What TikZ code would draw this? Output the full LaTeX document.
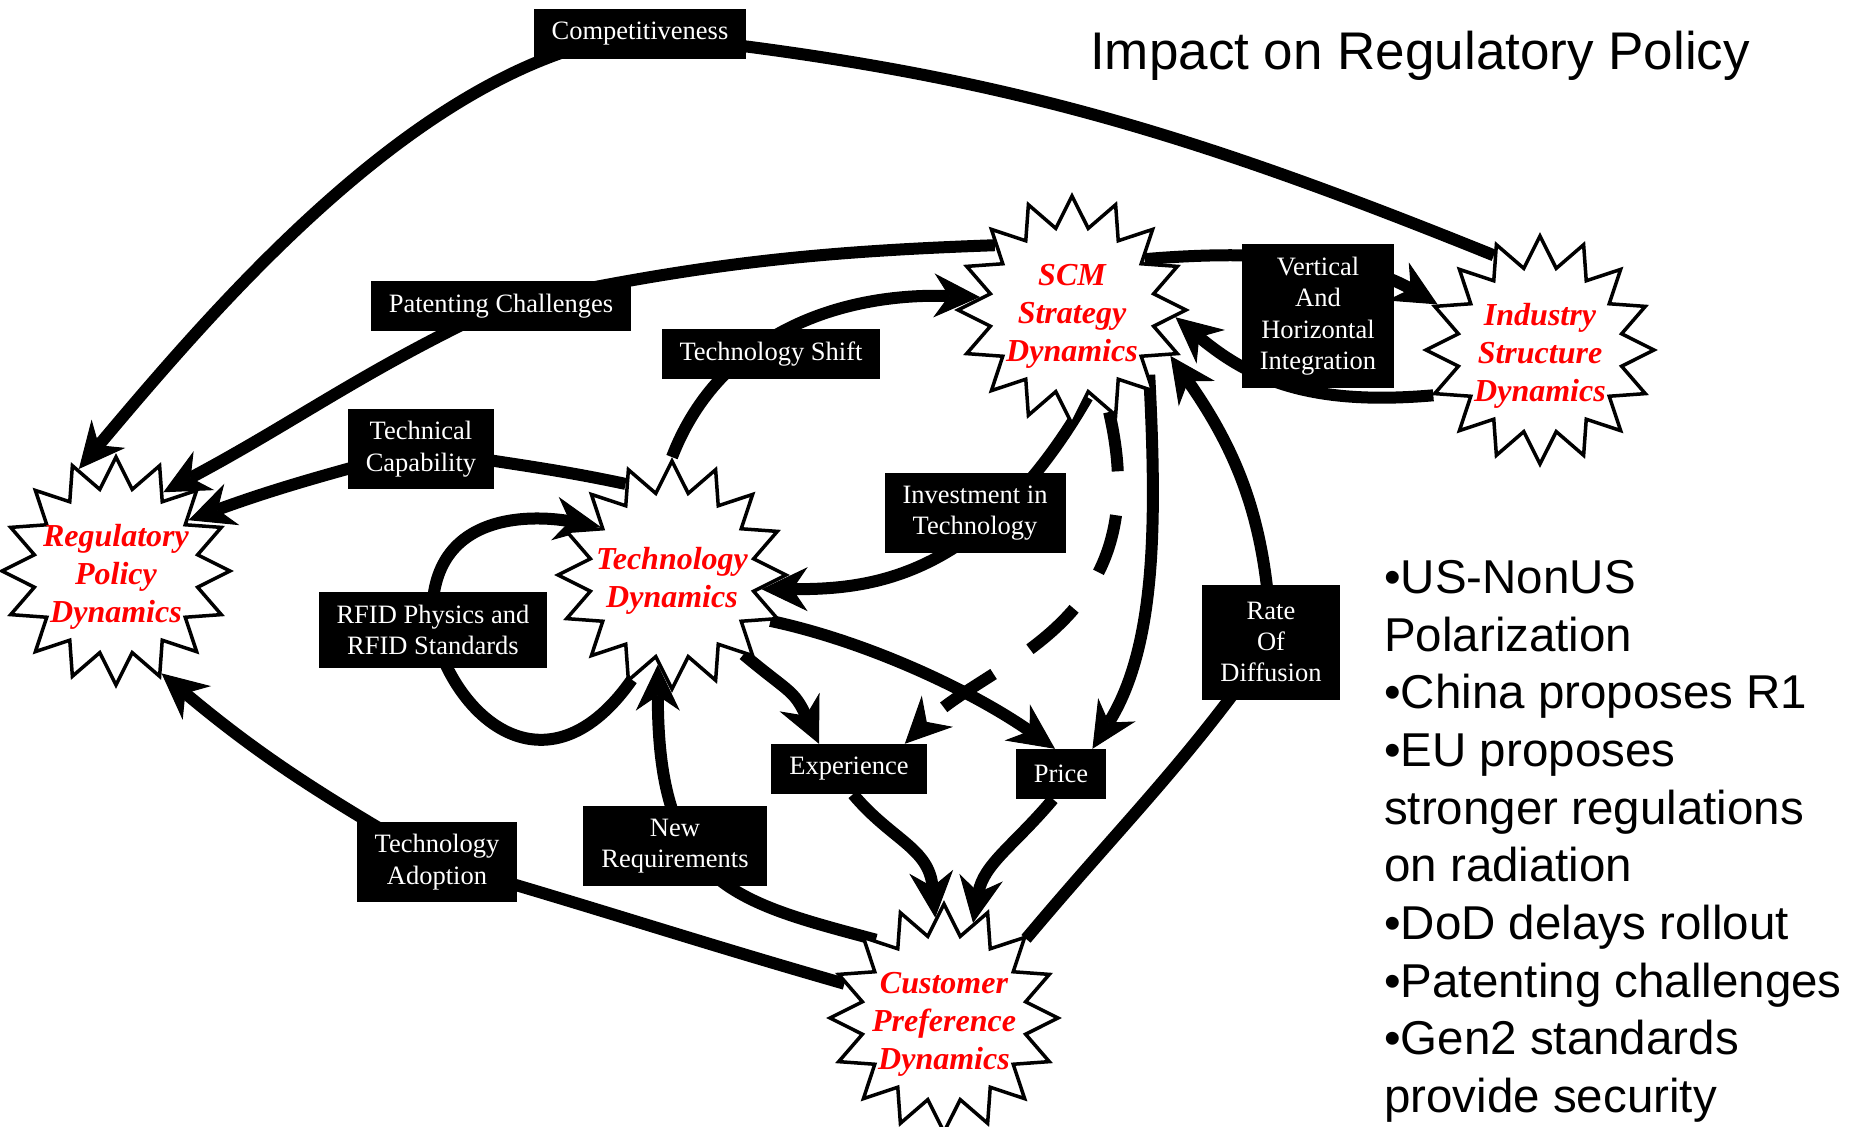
\documentclass[tikz,border=0pt]{standalone}
\usepackage{fontspec}
\setmainfont{Liberation Serif}
\newfontfamily\notefont{Liberation Sans}
\usetikzlibrary{shapes.geometric,arrows.meta,backgrounds,calc}

\begin{document}
\begin{tikzpicture}[x=1pt,y=-1pt,
  dyn/.style={star, star points=16, star point ratio=1.37, minimum size=228pt,
    inner sep=0pt, draw=black, line width=3.5pt, fill=white},
  dyntext/.style={text=red, font=\fontsize{32}{38}\selectfont\bfseries\itshape,
    align=center, inner sep=0pt, yshift=-6pt},
  factor/.style={fill=black, text=white, font=\fontsize{26.5}{31.4}\selectfont,
    align=center, inner xsep=18pt, inner ysep=12.5pt, minimum height=50pt},
  link/.style={line width=12pt, line cap=butt},
  head/.style={-{Stealth[length=46pt,width=44pt,inset=15pt,line width=1pt]}},
]
\useasboundingbox (0,0) rectangle (1858,1127);

% dynamics (starbursts)
\node[dyn, label={[dyntext]center:{Regulatory\\Policy\\Dynamics}}] (reg) at (116,571) {};
\node[dyn, label={[dyntext]center:{SCM\\Strategy\\Dynamics}}] (scm) at (1072,310) {};
\node[dyn, label={[dyntext]center:{Industry\\Structure\\Dynamics}}] (ind) at (1540,350) {};
\node[dyn, label={[dyntext]center:{Technology\\Dynamics}}] (tech) at (672,575) {};
\node[dyn, label={[dyntext]center:{Customer\\Preference\\Dynamics}}] (cust) at (944,1018) {};

% factors (black boxes)
\node[factor] (comp) at (640,34) {Competitiveness};
\node[factor] (patent) at (501,306) {Patenting Challenges};
\node[factor] (tshift) at (771,354) {Technology Shift};
\node[factor] (techcap) at (421,449) {Technical\\Capability};
\node[factor] (vhi) at (1318,316) {Vertical\\And\\Horizontal\\Integration};
\node[factor] (inv) at (975,513) {Investment in\\Technology};
\node[factor] (rfid) at (433,630) {RFID Physics and\\RFID Standards};
\node[factor, minimum height=115pt] (rate) at (1271,642) {Rate\\Of\\Diffusion};
\node[factor] (exp) at (849,769) {Experience};
\node[factor] (price) at (1061,774) {Price};
\node[factor] (tadopt) at (437,862) {Technology\\Adoption};
\node[factor] (newreq) at (675,846) {New\\Requirements};

% title and notes
\node[anchor=base west, inner sep=0pt, font=\notefont\fontsize{53}{60}\selectfont]
  (title) at (1090,69) {Impact on Regulatory Policy};
\node[anchor=north west, align=left, inner sep=0pt,
  font=\notefont\fontsize{47.5}{57.7}\selectfont] (notes) at (1384,560)
  {•US-NonUS\\Polarization\\•China proposes R1\\•EU proposes\\stronger regulations\\on radiation\\•DoD delays rollout\\•Patenting challenges\\•Gen2 standards\\provide security};

% causal links
\begin{scope}[on background layer]
\draw[link,head] (ind.116) to[out=158,in=-6] (comp.center)
  .. controls +(187:212pt) and +(50:234pt) .. (reg.110);
\draw[link,head] (scm.140) to[out=182,in=12] (patent.center) to[out=205,in=28] (reg.59);
\draw[link,head] (tech.117) to[out=168,in=-10] (techcap.center) to[out=195,in=20] (reg.35);
\draw[link,head] (tech.90) to[out=69,in=178] (scm.172);
\draw[link,head] (scm.280) .. controls +(240:214pt) and +(0:104pt) .. (tech.-9);
\draw[link,head,dash pattern=on 60pt off 44pt] (scm.290)
  .. controls +(-77:220pt) and +(45:120pt) .. ([xshift=-22pt]exp.north east);
\draw[link,head] (scm.-40) .. controls +(-87:150pt) and +(58:120pt) .. ([xshift=-14pt]price.north east);
\draw[link,head] (cust.44) to[out=50,in=-125] (rate.center) to[out=92,in=-55] (scm.-25);
\draw[link,head] (scm.35) .. controls +(5:100pt) and +(150:100pt) .. (ind.156);
\draw[link,head] (ind.203) .. controls +(185:120pt) and +(-40:100pt) .. (scm.-4);
\draw[link,head] (tech.249) .. controls +(235:140pt) and +(-75:100pt) .. (rfid.center)
  .. controls +(95:120pt) and +(170:70pt) .. (tech.146);
\draw[link,head] (tech.-48) .. controls +(-40:60pt) and +(115:60pt) .. ([xshift=-30pt]exp.north);
\draw[link,head] (tech.-25) .. controls +(-12:100pt) and +(145:100pt) .. ([xshift=-6pt]price.north);
\draw[link,head] ([xshift=4pt]exp.south) .. controls +(-50:60pt) and +(95:70pt) .. (cust.95);
\draw[link,head] ([xshift=-8pt]price.south) .. controls +(230:60pt) and +(80:60pt) .. (cust.73);
\draw[link,head] (cust.131) .. controls +(165:150pt) and +(-90:220pt) .. (tech.261);
\draw[link,head] (cust.161) to[out=164,in=-16] (tadopt.center) to[out=150,in=-40] (reg.-66);
\end{scope}
\end{tikzpicture}
\end{document}
